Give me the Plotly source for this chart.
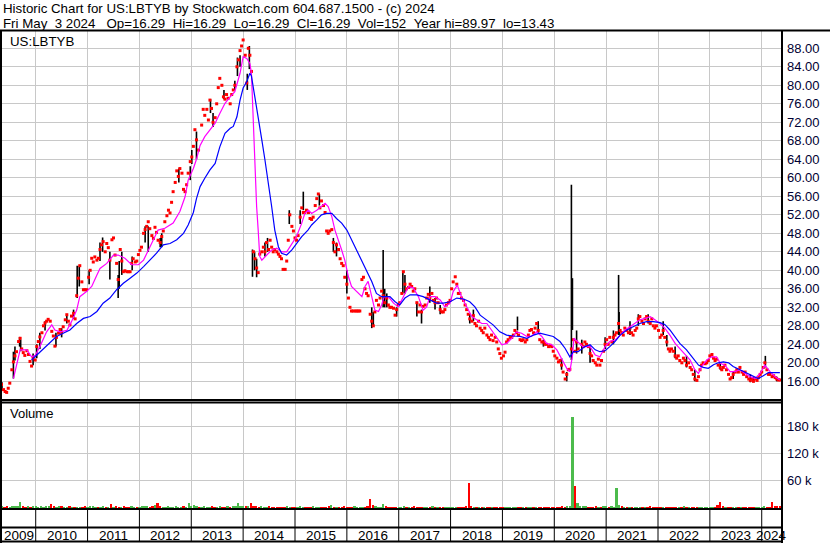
import numpy as np
import plotly.graph_objects as go

# ---------------- DATA ----------------
# Closing prices (red dots); time in decimal years
close_t = [
    2009.31, 2009.34, 2009.38, 2009.41, 2009.44, 2009.47, 2009.50, 2009.54, 2009.57, 2009.60,
    2009.63, 2009.67, 2009.70, 2009.73, 2009.76, 2009.79, 2009.83, 2009.86, 2009.89, 2009.92,
    2009.95, 2009.99, 2010.02, 2010.05, 2010.08, 2010.12, 2010.15, 2010.18, 2010.21, 2010.24,
    2010.28, 2010.31, 2010.34, 2010.37, 2010.40, 2010.44, 2010.47, 2010.50, 2010.53, 2010.57,
    2010.60, 2010.63, 2010.66, 2010.69, 2010.73, 2010.76, 2010.79, 2010.82, 2010.85, 2010.89,
    2010.92, 2010.95, 2010.98, 2011.02, 2011.05, 2011.08, 2011.11, 2011.14, 2011.18, 2011.21,
    2011.24, 2011.27, 2011.30, 2011.34, 2011.37, 2011.40, 2011.43, 2011.47, 2011.50, 2011.53,
    2011.56, 2011.59, 2011.63, 2011.66, 2011.69, 2011.72, 2011.76, 2011.79, 2011.82, 2011.85,
    2011.88, 2011.92, 2011.95, 2011.98, 2012.01, 2012.04, 2012.08, 2012.11, 2012.14, 2012.17,
    2012.20, 2012.24, 2012.27, 2012.30, 2012.33, 2012.36, 2012.40, 2012.43, 2012.46, 2012.49,
    2012.53, 2012.56, 2012.59, 2012.62, 2012.65, 2012.69, 2012.72, 2012.75, 2012.78, 2012.82,
    2012.85, 2012.88, 2012.91, 2012.94, 2012.98, 2013.01, 2013.04, 2013.07, 2013.10, 2013.14,
    2013.20, 2013.23, 2013.26, 2013.30, 2013.33, 2013.36, 2013.39, 2013.42, 2013.46, 2013.49,
    2013.52, 2013.55, 2013.59, 2013.62, 2013.65, 2013.68, 2013.71, 2013.75, 2013.78, 2013.81,
    2013.84, 2013.88, 2013.91, 2013.94, 2013.97, 2014.00, 2014.04, 2014.07, 2014.10, 2014.13,
    2014.16, 2014.20, 2014.23, 2014.26, 2014.29, 2014.32, 2014.36, 2014.39, 2014.42, 2014.45,
    2014.49, 2014.52, 2014.55, 2014.58, 2014.61, 2014.65, 2014.68, 2014.71, 2014.74, 2014.77,
    2014.81, 2014.84, 2014.87, 2014.90, 2014.94, 2014.97, 2015.00, 2015.03, 2015.06, 2015.10,
    2015.13, 2015.16, 2015.19, 2015.22, 2015.26, 2015.29, 2015.32, 2015.35, 2015.39, 2015.42,
    2015.45, 2015.48, 2015.51, 2015.55, 2015.58, 2015.61, 2015.64, 2015.67, 2015.71, 2015.74,
    2015.77, 2015.80, 2015.84, 2015.87, 2015.90, 2015.93, 2015.96, 2016.00, 2016.03, 2016.06,
    2016.09, 2016.12, 2016.16, 2016.19, 2016.22, 2016.25, 2016.29, 2016.32, 2016.35, 2016.38,
    2016.41, 2016.45, 2016.48, 2016.51, 2016.54, 2016.57, 2016.61, 2016.64, 2016.67, 2016.70,
    2016.73, 2016.77, 2016.80,
    2016.83, 2016.86, 2016.90, 2016.93, 2016.96, 2016.99, 2017.02, 2017.06, 2017.09, 2017.12,
    2017.15, 2017.19, 2017.22, 2017.25, 2017.28, 2017.31, 2017.35, 2017.38, 2017.41, 2017.44,
    2017.47, 2017.51, 2017.54, 2017.57, 2017.60, 2017.64, 2017.67, 2017.70, 2017.73, 2017.76,
    2017.80, 2017.83, 2017.86, 2017.89, 2017.92, 2017.96, 2017.99, 2018.02, 2018.05, 2018.09,
    2018.12, 2018.15, 2018.18, 2018.21, 2018.25, 2018.28, 2018.31, 2018.34, 2018.37, 2018.41,
    2018.44, 2018.47, 2018.50, 2018.54, 2018.57, 2018.60, 2018.63, 2018.66, 2018.70, 2018.73,
    2018.76, 2018.79, 2018.82, 2018.86, 2018.89, 2018.92, 2018.95, 2018.98, 2019.02, 2019.05,
    2019.08, 2019.11, 2019.15, 2019.18, 2019.21, 2019.24, 2019.27, 2019.31, 2019.34, 2019.37,
    2019.40, 2019.44, 2019.47, 2019.50, 2019.53, 2019.56, 2019.60, 2019.63, 2019.66, 2019.69,
    2019.72, 2019.76, 2019.79, 2019.82, 2019.85, 2019.89, 2019.92, 2019.95, 2019.98, 2020.01,
    2020.05, 2020.08, 2020.11, 2020.14, 2020.17, 2020.21, 2020.24, 2020.27, 2020.30, 2020.33,
    2020.37, 2020.40, 2020.43, 2020.46,
    2020.53, 2020.56, 2020.59, 2020.62, 2020.66, 2020.69, 2020.72, 2020.75, 2020.79, 2020.82,
    2020.85, 2020.88, 2020.91, 2020.95, 2020.98, 2021.01, 2021.04, 2021.07, 2021.11, 2021.14,
    2021.17, 2021.20, 2021.24, 2021.27, 2021.30, 2021.33, 2021.36, 2021.40, 2021.43, 2021.46,
    2021.49, 2021.52, 2021.56, 2021.59, 2021.62, 2021.65, 2021.69, 2021.72, 2021.75, 2021.78,
    2021.81, 2021.85, 2021.88, 2021.91, 2021.94, 2021.97, 2022.01, 2022.04, 2022.07, 2022.10,
    2022.13, 2022.17, 2022.20, 2022.23, 2022.26, 2022.30, 2022.33, 2022.36, 2022.39, 2022.42,
    2022.46, 2022.49, 2022.52, 2022.55, 2022.59, 2022.62, 2022.65, 2022.68, 2022.71, 2022.75,
    2022.78, 2022.81, 2022.84, 2022.87, 2022.91, 2022.94, 2022.97, 2023.00, 2023.04, 2023.07,
    2023.10, 2023.13, 2023.16, 2023.20, 2023.23, 2023.26, 2023.29, 2023.32, 2023.36, 2023.39,
    2023.42, 2023.45, 2023.49, 2023.52, 2023.55, 2023.58, 2023.62, 2023.65, 2023.68, 2023.71,
    2023.75, 2023.78, 2023.81, 2023.84, 2023.87, 2023.91, 2023.94, 2023.97, 2024.00, 2024.03,
    2024.06, 2024.10, 2024.13, 2024.16, 2024.20, 2024.23, 2024.26, 2024.29, 2024.32, 2024.35,
]
close_v = [
    14.8, 15.3, 14.2, 13.8, 13.6, 14.5, 15.6, 18.5, 20.2, 21.5,
    22.4, 24.6, 25.3, 23.0, 22.2, 21.6, 22.6, 21.8, 20.3, 19.3,
    21.0, 20.6, 23.5, 24.6, 25.6, 26.5, 28.0, 28.6, 29.0, 29.4,
    29.0, 26.8, 25.8, 23.6, 25.5, 26.4, 27.2, 26.5, 27.8, 29.3,
    30.4, 29.0, 28.2, 30.1, 30.7, 29.5, 34.5, 38.3, 41.0, 37.5,
    35.8, 35.8, 35.8, 38.5, 40.0, 42.6, 41.8, 42.9, 42.2, 42.6,
    44.5, 45.5, 46.2, 44.0, 45.8, 44.9, 42.2, 46.6, 47.0, 43.3,
    41.5, 38.0, 44.5, 42.0, 39.7, 39.9, 39.7, 39.7, 39.7, 41.5,
    42.5, 41.8, 42.0, 43.4, 44.3, 45.0, 48.0, 48.8, 49.5, 50.5,
    49.0, 47.5, 46.9, 49.3, 48.2, 46.5, 46.0, 47.3, 48.5, 50.5,
    51.8, 53.0, 52.4, 54.7, 57.0, 59.0, 61.5, 60.3, 62.0, 61.0,
    57.5, 57.0, 58.5, 61.0, 63.5, 64.5, 66.8, 70.4, 68.2, 66.0,
    71.4, 74.8, 73.5, 74.8, 72.5, 76.8, 75.0, 72.0, 73.0, 76.0,
    79.5, 81.5, 80.0, 77.5, 77.0, 78.0, 77.2, 76.0, 78.0, 79.0,
    80.0, 84.0, 85.5, 87.5, 88.5, 89.8, 86.5, 80.5, 88.0, 86.5,
    83.0, 44.0, 42.5, 40.5, 39.5, 43.5, 44.0, 45.0, 44.0, 46.0,
    44.5, 46.5, 45.0, 44.0, 44.5, 44.0, 43.5, 43.0, 42.5, 40.2,
    40.2, 42.0, 46.5, 52.0, 49.5, 48.5, 47.0, 46.5, 47.5, 51.5,
    53.5, 52.5, 52.5, 53.0, 52.5, 51.2, 51.0, 51.5, 54.0, 55.5,
    56.5, 53.5, 55.0, 54.0, 52.5, 48.5, 48.0, 48.5, 48.8, 46.0,
    44.0, 45.5, 44.5, 42.5, 41.5, 41.0, 38.5, 37.0, 34.0, 32.0,
    31.2, 31.2, 31.2, 31.2, 31.2, 31.2, 38.0, 38.5, 36.0, 35.0,
    34.5, 30.5, 29.0, 28.0, 31.0, 33.5, 32.5, 34.0, 35.5, 34.5,
    33.0, 34.0, 32.5,
    32.0, 32.0, 31.8, 30.3, 31.5, 32.5, 33.0, 35.0, 39.7, 37.0,
    36.0, 36.3, 37.0, 36.5, 35.5, 36.0, 33.0, 31.0, 32.5, 31.0,
    32.2, 32.5, 34.0, 34.8, 34.0, 35.0, 33.5, 33.0, 34.0, 33.0,
    31.5, 31.0, 31.0, 31.5, 32.5, 33.0, 33.5, 36.0, 37.5, 38.6,
    37.0, 35.0, 35.0, 34.0, 33.5, 32.5, 31.5, 30.5, 29.5, 29.0,
    30.2, 28.5, 28.0, 29.0, 27.5, 27.0, 26.5, 27.5, 26.0, 25.5,
    25.0, 26.0, 24.8, 25.5, 24.5, 23.0, 22.0, 21.0, 21.5, 22.3,
    24.5, 25.0, 25.5, 25.5, 26.0, 27.0, 26.5, 26.0, 25.0, 24.8,
    25.0, 24.5, 25.0, 26.0, 27.0, 27.2, 26.5, 27.5, 28.5, 27.0,
    25.0, 24.5, 24.5, 24.0, 24.0, 23.5, 23.8, 23.5, 22.5, 21.5,
    21.0, 20.2, 20.5, 19.5, 18.0, 16.5, 17.5, 18.5, 18.6, 23.0,
    25.0, 22.5, 24.5, 23.0,
    24.0, 23.5, 24.5, 24.0, 23.5, 22.0, 21.5, 20.5, 20.0, 19.5,
    20.8, 19.5, 20.5, 22.5, 24.0, 25.0, 24.0, 25.5, 24.5, 25.5,
    26.0, 26.5, 28.5, 27.0, 26.5, 26.0, 27.5, 27.0, 26.5, 27.5,
    26.5, 26.0, 27.0, 27.5, 29.5, 30.0, 29.0, 28.5, 29.5, 30.0,
    29.0, 28.5, 29.5, 28.0, 27.5, 28.0, 27.0, 25.5, 26.0, 27.0,
    25.5, 24.5, 23.0, 22.5, 23.0, 22.5, 21.5, 21.0, 21.5, 20.5,
    20.0, 21.0, 20.5, 19.5, 20.0, 19.0, 18.5, 17.5, 16.5, 16.2,
    17.0, 18.5, 19.5, 20.0, 19.8, 20.0, 20.5, 21.5, 21.8, 21.0,
    20.5, 20.8, 19.5, 19.0, 18.5, 19.0, 19.5, 18.5, 17.5, 16.5,
    16.8, 17.5, 18.0, 18.5, 18.0, 19.0, 18.0, 17.5, 18.0, 17.0,
    16.5, 16.2, 16.5, 16.0, 16.5, 16.2, 16.8, 17.5, 18.0, 19.0,
    20.0, 18.5, 17.5, 17.5, 17.0, 17.2, 16.8, 16.5, 16.3, 16.29,
]

# Wide-range bars (black): time, high, low
bar_t = [2009.35, 2009.57, 2009.60, 2009.69, 2009.71, 2009.95, 2010.02, 2010.08, 2010.18, 2010.39,
         2010.50, 2010.60, 2010.73, 2010.80, 2010.84, 2011.03, 2011.24, 2011.29, 2011.43, 2011.59,
         2011.61, 2011.66, 2011.86, 2012.11, 2012.17, 2012.40, 2012.43, 2012.76, 2012.98, 2013.01,
         2013.10, 2013.37, 2013.42, 2013.63, 2013.84, 2013.89, 2013.94, 2014.08, 2014.12, 2014.18,
         2014.22, 2014.26, 2014.42, 2014.47, 2014.89, 2015.10, 2015.16, 2015.47, 2015.74, 2015.80,
         2016.00, 2016.48, 2016.51, 2016.70, 2016.73, 2016.77, 2016.96, 2017.08, 2017.12, 2017.35,
         2017.44, 2017.60, 2017.70, 2017.80, 2018.37, 2018.44, 2019.29, 2019.69, 2019.79, 2020.14,
         2020.24, 2020.33, 2020.35, 2020.43, 2020.53, 2020.69, 2020.98, 2021.14, 2021.24, 2021.25,
         2021.46, 2021.62, 2021.81, 2022.10, 2022.17, 2022.33, 2022.55, 2022.71, 2023.20, 2023.45,
         2023.78, 2023.84, 2024.07, 2024.29]
bar_hi = [15.8, 22.4, 23.5, 25.6, 25.0, 22.0, 24.0, 26.5, 29.0, 26.5,
          27.5, 30.5, 31.5, 41.0, 41.0, 40.0, 46.0, 47.1, 44.0, 39.0,
          42.0, 44.0, 43.0, 49.5, 49.5, 47.0, 48.0, 62.0, 62.5, 66.0,
          70.0, 77.0, 74.0, 79.0, 81.0, 86.0, 86.5, 82.5, 88.5, 44.5,
          44.0, 42.5, 46.0, 47.0, 53.0, 53.0, 57.0, 56.5, 47.0, 46.0,
          40.0, 32.0, 31.0, 44.4, 36.0, 35.0, 32.0, 39.7, 39.0, 33.0,
          31.5, 36.5, 34.0, 32.5, 30.5, 31.5, 30.0, 29.0, 25.0, 21.0,
          18.0, 58.5, 38.3, 27.0, 25.0, 23.5, 25.5, 27.0, 39.0, 31.0,
          29.0, 30.5, 30.5, 29.0, 26.0, 23.5, 21.5, 18.5, 20.0, 18.0,
          17.5, 17.0, 21.5, 17.0]
bar_lo = [14.0, 16.6, 20.5, 23.5, 22.5, 19.5, 21.0, 23.0, 27.0, 23.5,
          25.5, 28.5, 29.5, 34.0, 36.5, 37.0, 42.0, 44.0, 38.0, 34.0,
          36.0, 39.0, 40.0, 46.0, 44.0, 45.0, 45.0, 59.0, 59.5, 63.0,
          64.0, 74.0, 71.0, 77.0, 79.0, 82.0, 84.0, 79.0, 83.5, 38.6,
          40.0, 38.5, 43.0, 44.0, 50.0, 50.0, 53.0, 54.0, 44.0, 43.0,
          35.0, 27.5, 28.0, 32.0, 32.0, 32.0, 30.0, 35.0, 35.0, 30.0,
          28.5, 33.0, 31.5, 30.5, 28.5, 29.0, 27.0, 26.5, 23.5, 18.5,
          16.0, 20.6, 27.1, 22.0, 22.0, 20.0, 23.0, 24.0, 26.0, 26.0,
          26.0, 28.0, 28.5, 26.0, 23.5, 21.0, 19.0, 16.0, 18.5, 16.5,
          15.8, 15.8, 19.0, 16.0]

# Fast moving average (magenta)
ma_fast_t = [2009.57, 2009.70, 2009.83, 2009.92, 2009.99, 2010.08, 2010.21, 2010.31, 2010.37, 2010.47,
             2010.60, 2010.69, 2010.79, 2010.85, 2010.98, 2011.08, 2011.18, 2011.24, 2011.37, 2011.50,
             2011.59, 2011.72, 2011.85, 2011.98, 2012.08, 2012.17, 2012.27, 2012.36, 2012.49, 2012.65,
             2012.78, 2012.88, 2012.94, 2013.04, 2013.10, 2013.17, 2013.26, 2013.36, 2013.46, 2013.55,
             2013.65, 2013.75, 2013.84, 2013.94, 2014.00, 2014.07, 2014.13, 2014.16, 2014.20, 2014.23,
             2014.26, 2014.29, 2014.32, 2014.36, 2014.45, 2014.55, 2014.65, 2014.74, 2014.84, 2014.94,
             2015.03, 2015.13, 2015.19, 2015.26, 2015.32, 2015.42, 2015.51, 2015.58, 2015.64, 2015.71,
             2015.77, 2015.84, 2015.90, 2015.96, 2016.03, 2016.09, 2016.16, 2016.22, 2016.29, 2016.35,
             2016.41, 2016.48, 2016.54, 2016.61, 2016.67, 2016.72, 2016.80, 2016.90, 2016.99, 2017.09,
             2017.19, 2017.28, 2017.38, 2017.47, 2017.54, 2017.60, 2017.70, 2017.80, 2017.89, 2017.99,
             2018.05, 2018.13, 2018.21, 2018.31, 2018.41, 2018.50, 2018.60, 2018.70, 2018.79, 2018.89,
             2018.99, 2019.08, 2019.18, 2019.27, 2019.37, 2019.47, 2019.56, 2019.66, 2019.76, 2019.85,
             2019.95, 2020.05, 2020.14, 2020.24, 2020.30, 2020.35, 2020.38, 2020.46, 2020.55, 2020.69,
             2020.79, 2020.88, 2020.98, 2021.07, 2021.17, 2021.27, 2021.36, 2021.46, 2021.56, 2021.65,
             2021.75, 2021.85, 2021.94, 2022.04, 2022.13, 2022.23, 2022.33, 2022.42, 2022.52, 2022.62,
             2022.71, 2022.78, 2022.84, 2022.94, 2023.03, 2023.13, 2023.20, 2023.29, 2023.39, 2023.48,
             2023.58, 2023.68, 2023.77, 2023.87, 2023.97, 2024.06, 2024.16, 2024.26, 2024.35]
ma_fast = [16.6, 22.8, 22.8, 21.3, 21.6, 23.5, 26.7, 28.2, 27.1, 26.7,
           27.0, 28.9, 31.4, 34.3, 35.4, 36.5, 39.0, 40.4, 41.5, 43.3,
           43.3, 42.6, 41.2, 41.2, 42.2, 44.4, 46.6, 48.7, 49.1, 50.2,
           52.7, 55.9, 59.5, 62.0, 64.0, 67.0, 68.9, 70.3, 71.8, 73.9,
           76.1, 77.5, 78.6, 82.6, 86.2, 85.8, 84.7, 82.6, 70.3, 59.5,
           53.8, 48.7, 43.0, 42.2, 43.3, 44.4, 44.8, 44.0, 44.0, 45.8,
           47.3, 50.2, 52.3, 53.0, 52.3, 53.0, 53.8, 54.5, 53.8, 51.6,
           48.7, 46.6, 44.4, 42.2, 38.6, 36.5, 35.8, 35.0, 34.3, 36.5,
           37.6, 34.3, 31.4, 31.1, 32.5, 34.3, 34.3, 32.9, 32.1, 34.3,
           36.5, 36.2, 34.3, 31.4, 32.1, 34.3, 34.3, 33.6, 32.1, 32.9,
           35.4, 36.8, 34.3, 32.1, 30.0, 29.3, 28.5, 28.5, 27.1, 25.7,
           23.9, 24.2, 25.3, 26.7, 26.4, 25.7, 25.7, 26.7, 25.7, 24.2,
           23.9, 22.8, 21.0, 18.8, 18.1, 21.5, 25.3, 24.5, 23.5, 23.5,
           21.7, 21.3, 23.5, 24.6, 24.9, 26.0, 27.1, 27.8, 28.5, 29.3,
           29.6, 30.0, 29.3, 28.5, 27.5, 26.0, 24.2, 23.1, 22.0, 20.6,
           18.5, 17.7, 19.2, 20.6, 21.3, 21.3, 19.9, 19.5, 18.1, 18.1,
           18.5, 17.7, 17.0, 16.6, 17.7, 19.5, 18.1, 17.0, 16.3]

# Slow moving average (blue)
ma_slow_t = [2009.92, 2010.02, 2010.15, 2010.28, 2010.40, 2010.53, 2010.66, 2010.79, 2010.92, 2011.05,
             2011.18, 2011.30, 2011.43, 2011.56, 2011.69, 2011.82, 2011.95, 2012.08, 2012.20, 2012.33,
             2012.46, 2012.59, 2012.72, 2012.85, 2012.94, 2013.04, 2013.10, 2013.17, 2013.26, 2013.36,
             2013.46, 2013.55, 2013.65, 2013.75, 2013.81, 2013.88, 2013.94, 2014.00, 2014.07, 2014.13,
             2014.16, 2014.23, 2014.29, 2014.36, 2014.42, 2014.49, 2014.55, 2014.61, 2014.68, 2014.74,
             2014.84, 2014.94, 2015.03, 2015.13, 2015.25, 2015.32, 2015.42, 2015.51, 2015.61, 2015.71,
             2015.80, 2015.90, 2016.00, 2016.09, 2016.19, 2016.29, 2016.38, 2016.48, 2016.57, 2016.67,
             2016.83, 2016.93, 2017.02, 2017.12, 2017.22, 2017.35, 2017.47, 2017.60, 2017.73, 2017.86,
             2017.99, 2018.12, 2018.25, 2018.37, 2018.47, 2018.57, 2018.70, 2018.82, 2018.95, 2019.08,
             2019.21, 2019.34, 2019.47, 2019.60, 2019.72, 2019.85, 2019.98, 2020.11, 2020.21, 2020.30,
             2020.37, 2020.46, 2020.59, 2020.69, 2020.79, 2020.88, 2020.98, 2021.07, 2021.17, 2021.27,
             2021.40, 2021.52, 2021.65, 2021.78, 2021.91, 2022.04, 2022.13, 2022.23, 2022.33, 2022.42,
             2022.55, 2022.68, 2022.78, 2022.87, 2022.97, 2023.07, 2023.16, 2023.26, 2023.36, 2023.45,
             2023.58, 2023.71, 2023.84, 2023.93, 2024.03, 2024.13, 2024.22, 2024.35]
ma_slow = [20.6, 21.7, 23.1, 24.6, 25.7, 26.4, 27.1, 28.5, 29.6, 30.0,
           31.1, 32.9, 34.0, 35.8, 37.2, 38.3, 39.4, 40.8, 42.2, 43.7,
           45.5, 45.8, 46.6, 48.0, 49.8, 52.5, 55.5, 58.1, 59.9, 61.7,
           63.1, 66.7, 69.6, 70.7, 71.1, 73.2, 76.8, 79.4, 80.8, 82.6,
           82.0, 76.8, 72.5, 68.2, 63.9, 58.8, 53.8, 48.7, 45.1, 43.7,
           43.3, 44.4, 45.8, 47.3, 48.7, 49.8, 50.9, 52.0, 52.3, 52.3,
           51.2, 50.2, 48.7, 46.6, 44.4, 42.2, 40.1, 37.6, 35.0, 34.3,
           34.3, 33.2, 32.5, 34.0, 34.7, 34.7, 34.3, 33.6, 32.9, 32.9,
           33.2, 34.0, 33.8, 33.2, 32.1, 30.3, 29.3, 28.2, 26.7, 26.0,
           25.8, 25.7, 25.3, 26.0, 26.4, 26.0, 25.7, 24.6, 23.1, 21.3,
           22.4, 22.4, 23.5, 23.9, 22.8, 22.4, 22.6, 23.5, 24.6, 26.0,
           27.1, 27.8, 28.5, 28.9, 28.9, 28.7, 28.3, 27.1, 25.7, 24.2,
           22.8, 21.0, 19.5, 19.0, 18.8, 19.6, 20.0, 20.2, 20.0, 19.2,
           18.5, 17.7, 17.0, 16.6, 17.2, 17.9, 17.9, 17.9]

# Volume (thousands of shares) in 0.05-year buckets; each year's list starts at its first bucket
vol_first_bucket = {2009: 2009.35}
vol_by_year = {
    2009: [3, 2, 3, 2, 4, 3, 3, 13, 3, 2, 3, 2, 3],
    2010: [3, 2, 3, 2, 3, 5, 9.5, 4, 2, 3, 5, 2, 2, 3, 2, 2, 1.5, 2, 2, 3],
    2011: [2, 3, 4, 2, 2, 2, 3, 2, 2, 9.5, 2, 3, 2, 2, 3, 2, 2, 3, 2, 2],
    2012: [2, 4, 4, 3, 2, 3, 7, 11, 3, 2, 2, 3, 2, 2, 3, 2, 2, 3, 2, 11],
    2013: [3, 7, 3, 2, 2, 3, 2, 2, 3, 2, 2, 3, 2, 2, 3, 2, 5, 3, 11, 3],
    2014: [3, 3, 4, 10, 5, 3, 2, 3, 2, 2, 3, 2, 2, 2, 2, 2, 2, 4, 2, 2],
    2015: [2, 2, 3, 2, 2, 2, 2, 3, 2, 2, 2, 2, 2, 3, 7, 2, 2, 2, 2, 3],
    2016: [2, 2, 2, 3, 2, 2, 2, 2, 3, 20, 6, 3, 2, 2, 9, 3, 2, 2, 2, 2],
    2017: [2, 2, 5, 2, 2, 2, 3, 2, 2, 2, 2, 2, 2, 3, 2, 2, 2, 2, 2, 2],
    2018: [2, 2, 2, 2, 2, 2, 5, 55, 3, 2, 2, 1.5, 2, 1.5, 2, 2, 1.5, 2, 2, 2],
    2019: [1.5, 2, 1.5, 1.5, 2, 1.5, 2, 1.5, 1.5, 2, 1.5, 1.5, 2, 1.5, 1.5, 2, 1.5, 2, 1.5, 2],
    2020: [2, 2, 2, 3, 2, 3, 4, 200, 48, 10, 5, 4, 3, 2, 2, 2, 3, 2, 2, 3],
    2021: [4, 2, 3, 2, 45, 6, 3, 2, 2, 2, 2, 2, 2, 2, 2, 2, 2, 3, 2, 2],
    2022: [2, 2, 2, 2, 2, 2, 2, 2, 2, 2, 3, 2, 2, 2, 2, 2, 2, 2, 2, 2],
    2023: [2, 2, 2, 6, 14, 3, 2, 2, 2, 2, 2, 2, 2, 2, 2, 2, 2, 2, 2, 2],
    2024: [2, 3, 2, 2, 14, 3, 5, 4],
}
vol_bucket = 0.05

year_bounds = list(range(2010, 2025))
year_labels = [str(y) for y in range(2009, 2025)]
price_ticks = list(range(16, 89, 4))
vol_ticks = [60, 120, 180]

x_start, x_end = 2009.35, 2024.391

# ---------------- LAYOUT HELPERS (pixel geometry) ----------------
W, H = 830, 543
ML, MR, MT, MB = 2, 48, 31, 35
PW, PH = W - ML - MR, H - MT - MB


def px_x(px):
    return (px - ML) / PW


def px_y(py):
    return (H - MB - py) / PH


FONT = "Liberation Sans, Arial, sans-serif"
GRID = "#c8c8c8"

fig = go.Figure()

# price bars (black)
bx, by = [], []
for t, h, l in zip(bar_t, bar_hi, bar_lo):
    bx += [t, t, None]
    by += [l, h, None]
fig.add_trace(go.Scatter(x=bx, y=by, mode="lines", line=dict(color="black", width=1.6),
                         xaxis="x", yaxis="y", hoverinfo="skip", showlegend=False))
# closes (red)
fig.add_trace(go.Scatter(x=close_t, y=close_v, mode="markers",
                         marker=dict(symbol="square", size=3, color="#ff0000", line=dict(width=0)),
                         xaxis="x", yaxis="y", showlegend=False))
# moving averages
fig.add_trace(go.Scatter(x=ma_fast_t, y=ma_fast, mode="lines", line=dict(color="#ff00ff", width=1.2),
                         xaxis="x", yaxis="y", showlegend=False))
fig.add_trace(go.Scatter(x=ma_slow_t, y=ma_slow, mode="lines", line=dict(color="#0000ff", width=1.2),
                         xaxis="x", yaxis="y", showlegend=False))

# volume bars
vt, vv = [], []
for yr, vals in vol_by_year.items():
    first = vol_first_bucket.get(yr, float(yr))
    for k, v in enumerate(vals):
        vt.append(round(first + vol_bucket * k, 3))
        vv.append(v)
vt = np.array(vt)
cnow = np.interp(vt, close_t, close_v)
cprev = np.interp(vt - vol_bucket, close_t, close_v)
vcol = ["#4cbb4c" if a >= b else "#ff0000" for a, b in zip(cnow, cprev)]
fig.add_trace(go.Bar(x=vt, y=vv, width=vol_bucket * 0.9, marker=dict(color=vcol, line=dict(width=0)),
                     xaxis="x2", yaxis="y2", showlegend=False))

axis_common = dict(showline=False, zeroline=False, ticks="", fixedrange=True)
fig.update_layout(
    width=W, height=H,
    margin=dict(l=ML, r=MR, t=MT, b=MB, pad=0),
    paper_bgcolor="white", plot_bgcolor="white",
    bargap=0, showlegend=False,
    font=dict(family=FONT, size=13, color="#000000"),
    xaxis=dict(domain=[0, 1], range=[x_start, x_end], anchor="y", tickvals=year_bounds,
               showticklabels=False, showgrid=True, gridcolor=GRID, gridwidth=1, **axis_common),
    yaxis=dict(domain=[px_y(400), 1], range=[11.96, 91.74], side="right", anchor="x",
               tickvals=price_ticks, ticktext=[f"{v:.2f}" for v in price_ticks],
               showgrid=True, gridcolor=GRID, gridwidth=1, ticklabelstandoff=4,
               tickfont=dict(family=FONT, size=13, color="#000033"), **axis_common),
    xaxis2=dict(domain=[0, 1], range=[x_start, x_end], anchor="y2", matches="x", tickvals=year_bounds,
                showticklabels=False, showgrid=True, gridcolor=GRID, gridwidth=1, **axis_common),
    yaxis2=dict(domain=[0, px_y(403)], range=[0, 230.8], side="right", anchor="x2",
                tickvals=vol_ticks, ticktext=[f"{v} k" for v in vol_ticks],
                showgrid=True, gridcolor=GRID, gridwidth=1, ticklabelstandoff=4,
                tickfont=dict(family=FONT, size=13, color="#000033"), **axis_common),
)

# frame lines
shapes = []


def hline(py, x0=0, x1=782, w=2):
    shapes.append(dict(type="line", xref="paper", yref="paper", x0=px_x(x0), x1=px_x(x1),
                       y0=px_y(py), y1=px_y(py), line=dict(color="black", width=w)))


def vline(px, y0, y1, w=2):
    shapes.append(dict(type="line", xref="paper", yref="paper", x0=px_x(px), x1=px_x(px),
                       y0=px_y(y0), y1=px_y(y1), line=dict(color="black", width=w)))


hline(30.5, 0, 830)
hline(400)
hline(402.5)
hline(509)
hline(527.5)
hline(541.5)
vline(1, 30, 543)
vline(782, 30, 543)
# year separators in the date band
for yb in year_bounds:
    shapes.append(dict(type="line", xref="x", yref="paper", x0=yb, x1=yb,
                       y0=px_y(509), y1=px_y(541.5), line=dict(color="black", width=1)))
fig.update_layout(shapes=shapes)

NB = "\u00a0"
ann = []
hdr1 = "Historic Chart for US:LBTYB by Stockwatch.com 604.687.1500 - (c) 2024"
hdr2 = ("Fri May" + NB * 2 + "3 2024" + NB * 3 + "Op=16.29" + NB * 2 + "Hi=16.29" + NB * 2 +
        "Lo=16.29" + NB * 2 + "Cl=16.29" + NB * 2 + "Vol=152" + NB * 2 + "Year hi=89.97" + NB * 2 + "lo=13.43")
for txt, py in [(hdr1, 8.5), (hdr2, 23.5)]:
    ann.append(dict(text=txt, xref="paper", yref="paper", x=px_x(1), y=px_y(py),
                    xanchor="left", yanchor="middle", showarrow=False,
                    font=dict(family=FONT, size=13.3, color="black")))
ann.append(dict(text="US:LBTYB", xref="paper", yref="paper", x=px_x(8), y=px_y(41.5),
                xanchor="left", yanchor="middle", showarrow=False,
                font=dict(family=FONT, size=13.3, color="black")))
ann.append(dict(text="Volume", xref="paper", yref="paper", x=px_x(8), y=px_y(413.5),
                xanchor="left", yanchor="middle", showarrow=False,
                font=dict(family=FONT, size=13, color="black")))
bounds = [x_start] + year_bounds + [x_end]
for lab, a, b in zip(year_labels, bounds[:-1], bounds[1:]):
    ann.append(dict(text=lab, xref="x", yref="paper", x=(a + b) / 2, y=px_y(535),
                    xanchor="center", yanchor="middle", showarrow=False,
                    font=dict(family=FONT, size=13.5, color="black")))
fig.update_layout(annotations=ann)

fig.write_html("out.html", config={"displayModeBar": False},
               post_script="document.body.style.margin='0';document.body.style.overflow='hidden';")
